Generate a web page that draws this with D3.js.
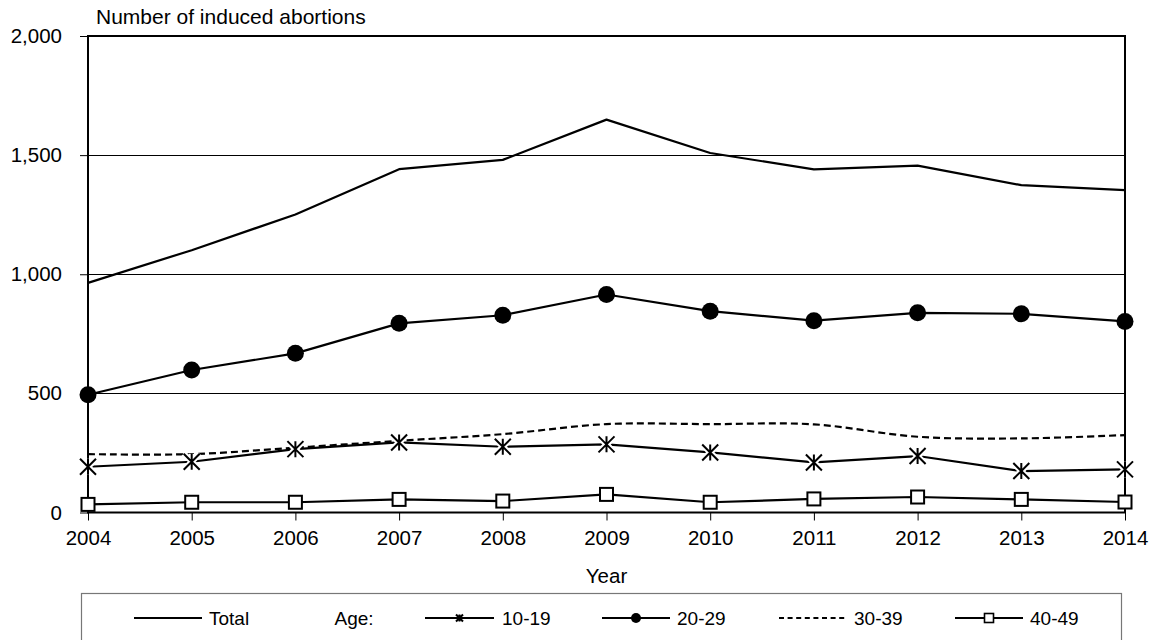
<!DOCTYPE html>
<html><head><meta charset="utf-8">
<script src="https://cdn.jsdelivr.net/npm/d3@7"></script>
<style>
body{margin:0;background:#fff;}
svg{display:block;font-family:"Liberation Sans",Arial,sans-serif;}
</style></head>
<body><svg id="chart" width="1152" height="640"></svg>
<script>
const years = [2004,2005,2006,2007,2008,2009,2010,2011,2012,2013,2014];
const total   = [964,1101,1251,1441,1480,1649,1509,1440,1456,1374,1353];
const age1019 = [192,213,266,294,276,286,252,210,237,174,181];
const age2029 = [494,598,668,794,828,915,845,805,838,834,802];
const age3039 = [245,245,272,301,329,371,371,370,318,311,325];
const age4049 = [34,43,43,55,48,76,43,57,65,55,44];
const yTicks = [0,500,1000,1500,2000];
const yTitle = "Number of induced abortions";
const xTitle = "Year";
const legendLabels = ["Total","Age:","10-19","20-29","30-39","40-49"];

const svg = d3.select("#chart");
const L=88, R=1125, T=36, B=512.5;
const x = d3.scalePoint().domain(years).range([L,R]);
const y = d3.scaleLinear().domain([0,2000]).range([B,T]);

// gridlines
svg.append("g").selectAll("line").data(yTicks.filter(d=>d>0&&d<2000)).join("line")
  .attr("x1",L).attr("x2",R).attr("y1",d=>Math.round(y(d))+0.5).attr("y2",d=>Math.round(y(d))+0.5)
  .attr("stroke","#000").attr("stroke-width",1).attr("shape-rendering","crispEdges");

// axes
const fmt = d3.format(",");
const ya = svg.append("g").attr("transform",`translate(${L},0)`)
  .call(d3.axisLeft(y).tickValues(yTicks).tickFormat(fmt).tickSize(8).tickPadding(18));
const xa = svg.append("g").attr("transform",`translate(0,${B})`)
  .call(d3.axisBottom(x).tickSize(8).tickPadding(10));
[ya,xa].forEach(a=>{
  a.select(".domain").remove();
  a.selectAll("line").attr("stroke","#000").attr("stroke-width",1);
  a.selectAll("text").attr("fill","#000").attr("font-size",20.5).attr("font-family","Liberation Sans, Arial, sans-serif");
});

// plot border
svg.append("rect").attr("x",L).attr("y",T).attr("width",R-L).attr("height",B-T)
  .attr("fill","none").attr("stroke","#000").attr("stroke-width",2);

// titles
svg.append("text").attr("x",96).attr("y",24).attr("font-size",21).text(yTitle);
svg.append("text").attr("x",(L+R)/2).attr("y",583).attr("text-anchor","middle").attr("font-size",20.5).text(xTitle);

const line = d3.line().x((d,i)=>x(years[i])).y(d=>y(d));
const smooth = d3.line().x((d,i)=>x(years[i])).y(d=>y(d)).curve(d3.curveCatmullRom.alpha(0.5));

function drawLine(data, gen, dash){
  svg.append("path").datum(data).attr("d",gen).attr("fill","none")
    .attr("stroke","#000").attr("stroke-width",2.2).attr("stroke-linejoin","round")
    .attr("stroke-dasharray",dash||null);
}
drawLine(total, line);
drawLine(age3039, smooth, "7,4");
drawLine(age1019, line);
drawLine(age2029, line);
drawLine(age4049, line);

function asterisk(g, cx, cy, s, halo){
  const p = `M${cx-s},${cy-s}L${cx+s},${cy+s}M${cx-s},${cy+s}L${cx+s},${cy-s}M${cx},${cy-s}L${cx},${cy+s}`;
  if(halo) g.append("path").attr("d",p).attr("stroke","#fff").attr("stroke-width",halo).attr("fill","none");
  g.append("path").attr("d",p).attr("stroke","#000").attr("stroke-width",2).attr("fill","none");
}
// markers
const gm = svg.append("g");
age1019.forEach((v,i)=>asterisk(gm, x(years[i]), y(v), 8, 6));
gm.selectAll("circle.c").data(age2029).join("circle").attr("class","c")
  .attr("cx",(d,i)=>x(years[i])).attr("cy",d=>y(d)).attr("r",8.5).attr("fill","#000");
gm.selectAll("rect.s").data(age4049).join("rect").attr("class","s")
  .attr("x",(d,i)=>x(years[i])-6.5).attr("y",d=>y(d)-6.5).attr("width",13).attr("height",13)
  .attr("fill","#fff").attr("stroke","#000").attr("stroke-width",2);

// legend
const lg = svg.append("g");
lg.append("rect").attr("x",81.5).attr("y",593.5).attr("width",1040).attr("height",60)
  .attr("fill","#fff").attr("stroke","#777").attr("stroke-width",1.2);
const ly = 618;
const items = [
  {x1:134,x2:202,tx:209,label:legendLabels[0],m:null},
  {x1:425,x2:494,tx:502,label:legendLabels[2],m:"x"},
  {x1:602,x2:670,tx:677,label:legendLabels[3],m:"o"},
  {x1:779,x2:847,tx:854,label:legendLabels[4],m:null,dash:"5,3.6"},
  {x1:955,x2:1023,tx:1030,label:legendLabels[5],m:"s"}
];
items.forEach(it=>{
  lg.append("line").attr("x1",it.x1).attr("x2",it.x2).attr("y1",ly).attr("y2",ly)
    .attr("stroke","#000").attr("stroke-width",2.2).attr("stroke-dasharray",it.dash||null);
  const cx=(it.x1+it.x2)/2;
  if(it.m==="x") asterisk(lg,cx,ly,3.5,0);
  if(it.m==="o") lg.append("circle").attr("cx",cx).attr("cy",ly).attr("r",5).attr("fill","#000");
  if(it.m==="s") lg.append("rect").attr("x",cx-4.5).attr("y",ly-4.5).attr("width",9).attr("height",9)
      .attr("fill","#fff").attr("stroke","#000").attr("stroke-width",1.6);
  lg.append("text").attr("x",it.tx).attr("y",ly).attr("dy","0.35em").attr("font-size",19).text(it.label);
});
lg.append("text").attr("x",334.5).attr("y",ly).attr("dy","0.35em").attr("font-size",19).text(legendLabels[1]);
</script></body></html>
